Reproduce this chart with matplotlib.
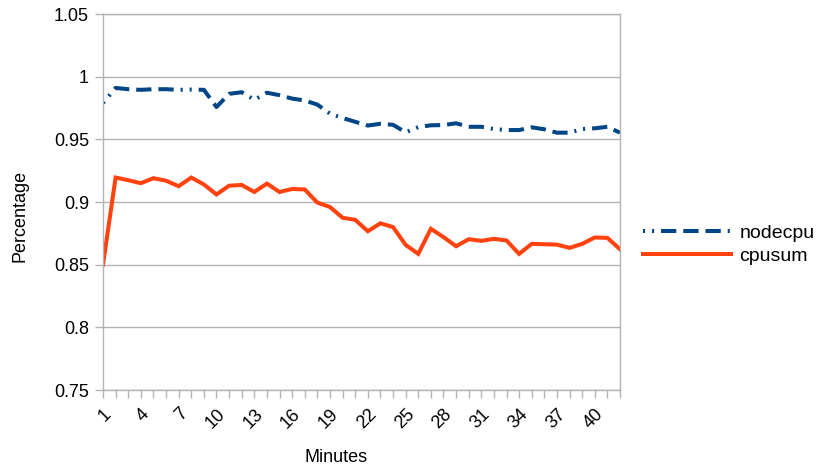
import matplotlib
matplotlib.use("Agg")
import matplotlib.pyplot as plt

plt.rcParams['font.family'] = ['Liberation Sans', 'DejaVu Sans']
plt.rcParams['lines.scale_dashes'] = False

minutes = list(range(1, 43))
tick_minutes = [1, 4, 7, 10, 13, 16, 19, 22, 25, 28, 31, 34, 37, 40]

nodecpu = [0.979, 0.991, 0.990, 0.9895, 0.990, 0.990, 0.9895, 0.9897, 0.9895, 0.9758,
           0.9863, 0.9876, 0.9816, 0.9872, 0.9852, 0.9825, 0.981, 0.9777, 0.9705, 0.967,
           0.964, 0.961, 0.9624, 0.9616, 0.9556, 0.9597, 0.9612, 0.9614, 0.9628, 0.960,
           0.960, 0.9582, 0.9574, 0.9574, 0.9596, 0.958, 0.9553, 0.9553, 0.9582, 0.9588,
           0.960, 0.9553]
cpusum = [0.850, 0.9195, 0.9174, 0.915, 0.919, 0.917, 0.9126, 0.9195, 0.914, 0.906,
          0.913, 0.9136, 0.908, 0.9147, 0.908, 0.9104, 0.910, 0.8995, 0.896, 0.8874,
          0.8858, 0.8767, 0.883, 0.880, 0.8658, 0.8586, 0.8786, 0.872, 0.8647, 0.8703,
          0.869, 0.8706, 0.8693, 0.8586, 0.8666, 0.8663, 0.866, 0.8634, 0.8666, 0.8717,
          0.8714, 0.8623]

y_ticks = [0.75, 0.8, 0.85, 0.9, 0.95, 1.0, 1.05]

blue = '#004586'
orange = '#ff420e'
gray = '#b3b3b3'

fig = plt.figure(figsize=(8.16, 4.69), dpi=100)
ax = fig.add_axes([103/816, 1 - 390/469, 517/816, 376/469])

ax.plot(minutes, nodecpu, color=blue, lw=2.9, solid_capstyle='butt',
        dash_capstyle='butt',
        dashes=[1.5, 5, 1.5, 5, 11, 5, 11, 5, 11, 5], label='nodecpu')
ax.plot(minutes, cpusum, color=orange, lw=2.9, solid_joinstyle='miter',
        label='cpusum')

ax.set_xlim(1, 42)
ax.set_ylim(0.75, 1.05)
ax.set_yticks(y_ticks)
ax.set_yticklabels(['{:g}'.format(v) for v in y_ticks], fontsize=13)
ax.set_xticks(minutes)
ax.set_xticklabels([str(m) if m in tick_minutes else '' for m in minutes],
                   fontsize=13, rotation=45, ha='right', va='top',
                   rotation_mode='anchor')
ax.tick_params(axis='both', color=gray, length=6, width=1, direction='out')
ax.tick_params(axis='x', pad=5)
ax.tick_params(axis='y', pad=4)

ax.grid(axis='y', color=gray, lw=1)
ax.set_axisbelow(True)
for s in ax.spines.values():
    s.set_color(gray)
    s.set_linewidth(1)

fig.text(336/816, 1 - 457/469, 'Minutes', fontsize=13, ha='center', va='center')
fig.text(20/816, 1 - 216/469, 'Percentage', fontsize=13, ha='center', va='center',
         rotation=90)

fig.legend(loc='center left', bbox_to_anchor=(643/816, 1 - 244.5/469),
           frameon=False, fontsize=14, handlelength=4.55, handletextpad=0.4,
           labelspacing=0.3, borderpad=0, borderaxespad=0)

fig.savefig('out.png', dpi=100)
